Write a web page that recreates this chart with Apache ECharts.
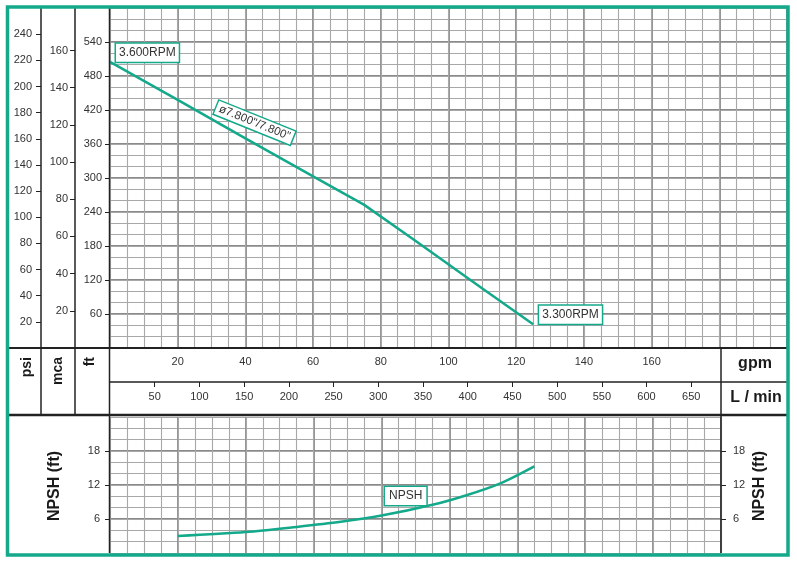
<!DOCTYPE html>
<html>
<head>
<meta charset="utf-8">
<title>Pump curve</title>
<script src="https://cdn.jsdelivr.net/npm/echarts@6/dist/echarts.min.js"></script>
<style>
  html, body { margin: 0; padding: 0; background: #fff; }
  #chart { width: 797px; height: 565px; }
</style>
</head>
<body>
<div id="chart"></div>
<script>
// head curve (ft) vs flow (gpm)
const headFlowGpm = [0, 20, 40, 60, 75, 90, 110, 125];
const headFt = [505, 438, 370, 303, 253, 190, 105, 42];

// NPSH curve (ft) vs flow (gpm)
const npshFlowGpm = [20, 40, 55, 68, 80, 95, 105, 115, 125];
const npshFt = [3.0, 3.7, 4.6, 5.5, 6.6, 8.5, 10.2, 12.3, 15.3];

// tick labels
const gpmLabels = [20, 40, 60, 80, 100, 120, 140, 160];
const lminLabels = [50, 100, 150, 200, 250, 300, 350, 400, 450, 500, 550, 600, 650];
const ftLabels = [60, 120, 180, 240, 300, 360, 420, 480, 540];
const mcaLabels = [20, 40, 60, 80, 100, 120, 140, 160];
const psiLabels = [20, 40, 60, 80, 100, 120, 140, 160, 180, 200, 220, 240];
const npshLabels = [6, 12, 18];

const FT_MAX = 600;
const FT_PER_PSI = 2.3067;
const FT_PER_M = 3.2808;
const L_PER_GAL = 3.7854;
const GPM_MAX_TOP = 200;
const GPM_MAX_BOTTOM = 180;
const NPSH_MAX = 24;

const TEAL = "#14a98b";
const FRAME = "#222";
const TEXT = "#333";
const FONT = "'Liberation Sans', Arial, sans-serif";

const majorLine = { lineStyle: { color: "#8a8a8a", width: 1.8 } };
const minorLine = { lineStyle: { color: "#a8a8a8", width: 1.1 } };

const boxLabel = {
  show: true,
  backgroundColor: "#fff",
  borderColor: TEAL,
  borderWidth: 1.5,
  padding: [2, 3],
  color: TEXT,
  fontSize: 12,
  lineHeight: 14,
};

function toPairs(xs, ys) {
  return xs.map((x, i) => [x, ys[i]]);
}

// axis used only for drawing grid lines
function gridAxis(gridIndex, max, interval, line) {
  return {
    type: "value",
    gridIndex: gridIndex,
    min: 0,
    max: max,
    interval: interval,
    axisLine: { show: false },
    axisTick: { show: false },
    axisLabel: { show: false },
    splitLine: Object.assign({ show: true }, line),
  };
}

// axis used only for ticks + labels (each sits on its own grid edge)
function labelAxis(gridIndex, max, values, position, margin) {
  return {
    type: "value",
    gridIndex: gridIndex,
    position: position,
    min: 0,
    max: max,
    axisLine: { show: false },
    axisTick: {
      show: true,
      length: 5,
      customValues: values,
      lineStyle: { color: FRAME, width: 1 },
    },
    axisLabel: {
      customValues: values,
      color: TEXT,
      fontSize: 11,
      margin: margin,
    },
    splitLine: { show: false },
  };
}

function hiddenAxis(gridIndex) {
  return { type: "value", gridIndex: gridIndex, show: false, min: 0, max: 1 };
}

function vLine(x, y1, y2, w) {
  return {
    type: "line",
    z: 100,
    shape: { x1: x, y1: y1, x2: x, y2: y2 },
    style: { stroke: FRAME, lineWidth: w },
  };
}
function hLine(y, x1, x2, w) {
  return {
    type: "line",
    z: 100,
    shape: { x1: x1, y1: y, x2: x2, y2: y },
    style: { stroke: FRAME, lineWidth: w },
  };
}
function vText(text, x, y, size, align) {
  return {
    type: "text",
    z: 100,
    x: x,
    y: y,
    rotation: Math.PI / 2,
    style: {
      text: text,
      font: "bold " + size + "px " + FONT,
      fill: "#1a1a1a",
      align: align,
      textAlign: align,
      verticalAlign: "middle",
      textVerticalAlign: "middle",
    },
  };
}
function hText(text, x, y, size) {
  return {
    type: "text",
    z: 100,
    x: x,
    y: y,
    style: {
      text: text,
      font: "bold " + size + "px " + FONT,
      fill: "#1a1a1a",
      align: "center",
      textAlign: "center",
      verticalAlign: "middle",
      textVerticalAlign: "middle",
    },
  };
}

function getPumpChartOption() {
  return {
    animation: false,
    textStyle: { fontFamily: FONT },
    grid: [
      // 0: head plot
      { left: 110, right: 10, top: 8, height: 340, outerBoundsMode: "none" },
      // 1: NPSH plot
      { left: 110, right: 76, top: 417, height: 136, outerBoundsMode: "none" },
      // 2: mca scale, 3: psi scale, 4: L/min scale
      { left: 75, right: 10, top: 8, height: 340, outerBoundsMode: "none" },
      { left: 41, right: 10, top: 8, height: 340, outerBoundsMode: "none" },
      { left: 110, right: 10, top: 8, height: 374, outerBoundsMode: "none" },
    ],
    xAxis: [
      // 0: gpm (top grid)
      Object.assign(gridAxis(0, GPM_MAX_TOP, 20, majorLine), {
        position: "bottom",
        axisLabel: {
          show: true,
          customValues: gpmLabels,
          color: TEXT,
          fontSize: 11,
          margin: 8,
        },
      }),
      gridAxis(0, GPM_MAX_TOP, 5, minorLine),
      gridAxis(1, GPM_MAX_BOTTOM, 20, majorLine),
      gridAxis(1, GPM_MAX_BOTTOM, 5, minorLine),
      hiddenAxis(2),
      hiddenAxis(3),
      // 6: L/min
      labelAxis(4, GPM_MAX_TOP * L_PER_GAL, lminLabels, "bottom", 9),
    ],
    yAxis: [
      // 0: ft
      Object.assign(labelAxis(0, FT_MAX, ftLabels, "left", 8), {
        interval: 60,
        splitLine: Object.assign({ show: true }, majorLine),
      }),
      gridAxis(0, FT_MAX, 20, minorLine),
      // 2: NPSH left
      Object.assign(labelAxis(1, NPSH_MAX, npshLabels, "left", 10), {
        interval: 6,
        splitLine: Object.assign({ show: true }, majorLine),
      }),
      gridAxis(1, NPSH_MAX, 2, minorLine),
      // 4: NPSH right
      labelAxis(1, NPSH_MAX, npshLabels, "right", 12),
      // 5: mca, 6: psi
      labelAxis(2, FT_MAX / FT_PER_M, mcaLabels, "left", 7),
      labelAxis(3, FT_MAX / FT_PER_PSI, psiLabels, "left", 9),
      hiddenAxis(4),
    ],
    series: [
      {
        name: "head",
        type: "line",
        xAxisIndex: 0,
        yAxisIndex: 0,
        symbol: "none",
        lineStyle: { color: TEAL, width: 2.5 },
        data: toPairs(headFlowGpm, headFt),
        markPoint: {
          symbol: "circle",
          symbolSize: 0,
          animation: false,
          data: [
            {
              coord: [headFlowGpm[0], headFt[0]],
              label: Object.assign({}, boxLabel, {
                formatter: "3.600RPM",
                position: "right",
                distance: 6,
                offset: [0, -9],
              }),
            },
            {
              coord: [42.7, 397.6],
              label: Object.assign({}, boxLabel, {
                formatter: 'ø7.800"/7.800"',
                position: "inside",
                rotate: -22,
                fontSize: 11.5,
                lineHeight: 12,
                padding: [1, 3],
              }),
            },
            {
              coord: [headFlowGpm[headFlowGpm.length - 1], headFt[headFt.length - 1]],
              label: Object.assign({}, boxLabel, {
                formatter: "3.300RPM",
                position: "right",
                distance: 6,
                offset: [0, -9.5],
              }),
            },
          ],
        },
      },
      {
        name: "NPSH",
        type: "line",
        xAxisIndex: 2,
        yAxisIndex: 2,
        symbol: "none",
        smooth: 0.3,
        lineStyle: { color: TEAL, width: 2.5 },
        data: toPairs(npshFlowGpm, npshFt),
        markPoint: {
          symbol: "circle",
          symbolSize: 0,
          animation: false,
          data: [
            {
              coord: [87.1, 10.06],
              label: Object.assign({}, boxLabel, {
                formatter: "NPSH",
                position: "inside",
                padding: [2, 4],
              }),
            },
          ],
        },
      },
    ],
    graphic: [
      // frame lines
      hLine(348, 7, 787, 2),
      hLine(382, 110, 787, 1.5),
      hLine(415, 7, 787, 2.5),
      vLine(41, 7, 415, 1.5),
      vLine(75, 7, 415, 1.5),
      vLine(109.5, 7, 553, 1.5),
      vLine(721, 348, 553, 1.5),
      // unit titles
      vText("psi", 27, 357, 14, "right"),
      vText("mca", 58, 357, 14, "right"),
      vText("ft", 90, 357, 14, "right"),
      hText("gpm", 755, 364, 16),
      hText("L / min", 756, 398, 16),
      vText("NPSH (ft)", 55, 486, 16, "center"),
      vText("NPSH (ft)", 760, 486, 16, "center"),
      // outer border
      {
        type: "rect",
        z: 110,
        shape: { x: 7.5, y: 7, width: 780.5, height: 548 },
        style: { fill: "none", stroke: TEAL, lineWidth: 3.5 },
      },
    ],
  };
}

const chart = echarts.init(document.getElementById("chart"));
chart.setOption(getPumpChartOption());
</script>
</body>
</html>
